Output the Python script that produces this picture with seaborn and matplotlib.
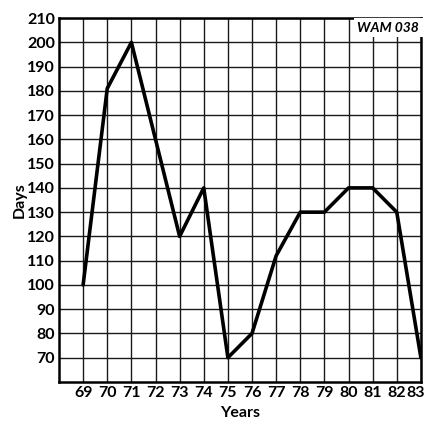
import pandas as pd
import matplotlib.pyplot as plt
import matplotlib.transforms as mtransforms
import seaborn as sns

# values
years = [69, 70, 71, 72, 73, 74, 75, 76, 77, 78, 79, 80, 81, 82, 83]
days = [100, 181, 200, 160, 120, 140, 70, 80, 112, 130, 130, 140, 140, 130, 70]
y_ticks = list(range(70, 211, 10))

df = pd.DataFrame({"Years": years, "Days": days})

sns.set_style("white")
plt.rcParams["font.family"] = ["Lato", "DejaVu Sans"]
plt.rcParams["text.color"] = "black"
plt.rcParams["axes.labelcolor"] = "black"
plt.rcParams["xtick.color"] = "black"
plt.rcParams["ytick.color"] = "black"

fig = plt.figure(figsize=(4.26, 4.22), dpi=100)
ax = fig.add_axes([0.1385, 0.095, 0.8495, 0.862])

sns.lineplot(data=df, x="Years", y="Days", color="black", linewidth=2.6, ax=ax)

ax.set_xlim(68, 83)
ax.set_ylim(60, 210)
ax.set_xticks(years)
ax.set_yticks(y_ticks)
ax.set_xticklabels([str(y) for y in years])
ax.grid(True, color="#1a1a1a", linewidth=1.0)
ax.tick_params(length=0, pad=3, labelsize=11.5)
for lab in ax.get_xticklabels() + ax.get_yticklabels():
    lab.set_fontweight("bold")
# last year label sits a little inside the page edge, as in the print
last = ax.get_xticklabels()[-1]
last.set_transform(last.get_transform() + mtransforms.ScaledTranslation(-5 / 100, 0, fig.dpi_scale_trans))
for s in ax.spines.values():
    s.set_color("black")
    s.set_linewidth(1.8)

ax.set_xlabel("Years", fontsize=11.5, fontweight="bold", labelpad=4)
ax.set_ylabel("Days", fontsize=11.5, fontweight="bold", labelpad=0)

ax.text(0.995, 0.99, "WAM 038", transform=ax.transAxes, ha="right", va="top",
        fontsize=10, fontweight="bold", style="italic",
        bbox=dict(boxstyle="square,pad=0.25", facecolor="white", edgecolor="none"),
        zorder=5)

fig.savefig("out.png", dpi=100)
